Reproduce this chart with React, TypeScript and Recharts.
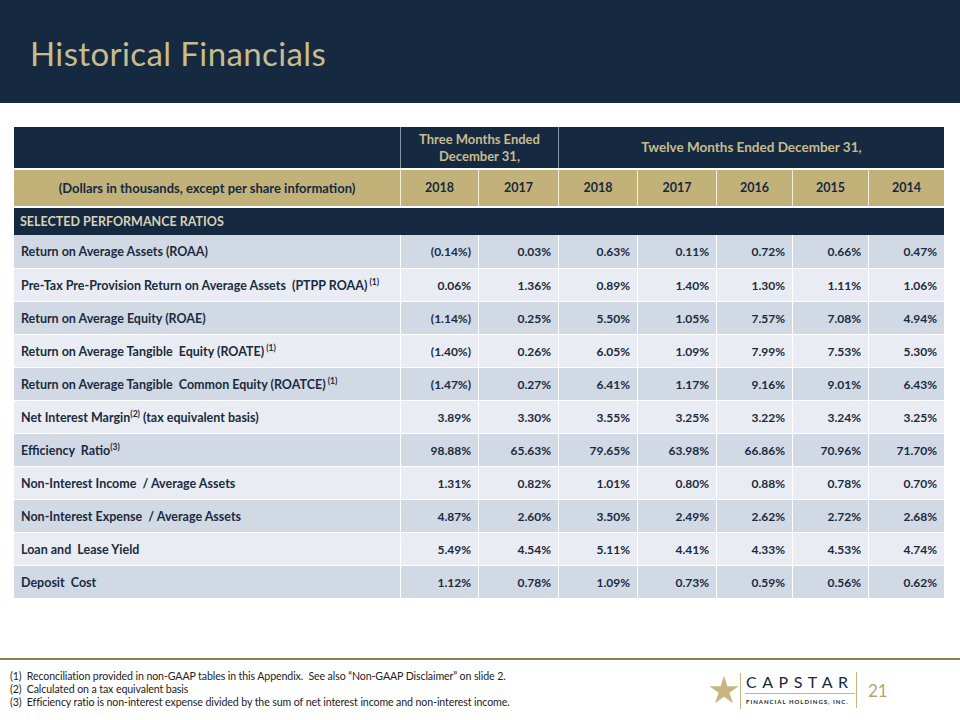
import React from "react";
import { Surface, Symbols } from "recharts";

const rowLabels = [
  "Return on Average Assets (ROAA)",
  "Pre-Tax Pre-Provision Return on Average Assets  (PTPP ROAA)",
  "Return on Average Equity (ROAE)",
  "Return on Average Tangible  Equity (ROATE)",
  "Return on Average Tangible  Common Equity (ROATCE)",
  "Net Interest Margin",
  "Efficiency  Ratio",
  "Non-Interest Income  / Average Assets",
  "Non-Interest Expense  / Average Assets",
  "Loan and  Lease Yield",
  "Deposit  Cost",
];
// superscript note and text that follows it
const rowNotes = ["", " (1)", "", " (1)", " (1)", "(2)", "(3)", "", "", "", ""];
const rowSuffix = ["", "", "", "", "", " (tax equivalent basis)", "", "", "", "", ""];

const periodLabels = ["2018", "2017", "2018", "2017", "2016", "2015", "2014"];

const q4_2018 = [-0.14, 0.06, -1.14, -1.4, -1.47, 3.89, 98.88, 1.31, 4.87, 5.49, 1.12];
const q4_2017 = [0.03, 1.36, 0.25, 0.26, 0.27, 3.3, 65.63, 0.82, 2.6, 4.54, 0.78];
const fy2018 = [0.63, 0.89, 5.5, 6.05, 6.41, 3.55, 79.65, 1.01, 3.5, 5.11, 1.09];
const fy2017 = [0.11, 1.4, 1.05, 1.09, 1.17, 3.25, 63.98, 0.8, 2.49, 4.41, 0.73];
const fy2016 = [0.72, 1.3, 7.57, 7.99, 9.16, 3.22, 66.86, 0.88, 2.62, 4.33, 0.59];
const fy2015 = [0.66, 1.11, 7.08, 7.53, 9.01, 3.24, 70.96, 0.78, 2.72, 4.53, 0.56];
const fy2014 = [0.47, 1.06, 4.94, 5.3, 6.43, 3.25, 71.7, 0.7, 2.68, 4.74, 0.62];

const footnotes = [
  "Reconciliation provided in non-GAAP tables in this Appendix.  See also \u201cNon-GAAP Disclaimer\u201d on slide 2.",
  "Calculated on a tax equivalent basis",
  "Efficiency ratio is non-interest expense divided by the sum of net interest income and non-interest income.",
];

const columns = [q4_2018, q4_2017, fy2018, fy2017, fy2016, fy2015, fy2014];

const NAVY = "#152a40";
const GOLD = "#c2b27a";
const TITLE_GOLD = "#c9bc8c";
const ROW_A = "#d1d9e5";
const ROW_B = "#e9edf3";
const TEXT = "#1b2b3e";
const FONT = "Lato, 'Open Sans', sans-serif";

const edges = [14, 400, 478, 558, 637, 716, 792, 868, 944];
const tableTop = 127;
const head1H = 41;
const head2H = 40;
const sectH = 27;
const rowH = 33;

const fmt = (v: number) => (v < 0 ? `(${Math.abs(v).toFixed(2)}%)` : `${v.toFixed(2)}%`);

const abs = (x: number, y: number, w: number, h: number, extra: React.CSSProperties = {}): React.CSSProperties => ({
  position: "absolute",
  left: x,
  top: y,
  width: w,
  height: h,
  boxSizing: "border-box",
  ...extra,
});

export default function App() {
  const head2Top = tableTop + head1H;
  const sectTop = head2Top + head2H;
  const bodyTop = sectTop + sectH;

  return (
    <div style={{ position: "absolute", left: 0, top: 0, width: 960, height: 720, background: "#ffffff", fontFamily: FONT, overflow: "hidden" }}>
      {/* title band */}
      <div style={abs(0, 0, 960, 103, { background: NAVY })} />
      <div style={abs(30, 28, 600, 50, { color: TITLE_GOLD, fontSize: 33, lineHeight: "50px", letterSpacing: 0.4 })}>
        Historical Financials
      </div>

      {/* header row 1 */}
      <div style={abs(edges[0], tableTop, edges[8] - edges[0], head1H, { background: NAVY })} />
      <div
        style={abs(edges[1], tableTop, edges[3] - edges[1], head1H, {
          color: TITLE_GOLD,
          fontWeight: 700,
          fontSize: 13,
          lineHeight: "17px",
          textAlign: "center",
          paddingTop: 4,
          borderLeft: "1px solid #8795a6",
        })}
      >
        Three Months Ended
        <br />
        December 31,
      </div>
      <div
        style={abs(edges[3], tableTop, edges[8] - edges[3], head1H, {
          color: TITLE_GOLD,
          fontWeight: 700,
          fontSize: 13.5,
          lineHeight: `${head1H}px`,
          textAlign: "center",
          borderLeft: "1px solid #8795a6",
        })}
      >
        Twelve Months Ended December 31,
      </div>

      {/* header row 2 */}
      <div
        style={abs(edges[0], head2Top, edges[1] - edges[0], head2H, {
          background: GOLD,
          color: NAVY,
          fontWeight: 700,
          fontSize: 13,
          lineHeight: `${head2H - 4}px`,
          textAlign: "center",
          borderTop: "2px solid #ffffff",
          borderBottom: "2px solid #ffffff",
        })}
      >
        (Dollars in thousands, except per share information)
      </div>
      {periodLabels.map((p, i) => (
        <div
          key={"p" + i}
          style={abs(edges[i + 1], head2Top, edges[i + 2] - edges[i + 1], head2H, {
            background: GOLD,
            color: NAVY,
            fontWeight: 700,
            fontSize: 12.5,
            lineHeight: `${head2H - 4}px`,
            textAlign: "center",
            borderTop: "2px solid #ffffff",
            borderBottom: "2px solid #ffffff",
            borderLeft: "1px solid #f3eedd",
          })}
        >
          {p}
        </div>
      ))}

      {/* section row */}
      <div
        style={abs(edges[0], sectTop, edges[8] - edges[0], sectH, {
          background: NAVY,
          color: "#d9d1b5",
          fontWeight: 700,
          fontSize: 12.5,
          lineHeight: `${sectH}px`,
          paddingLeft: 6,
        })}
      >
        SELECTED PERFORMANCE RATIOS
      </div>

      {/* data rows */}
      {rowLabels.map((label, r) => {
        const top = bodyTop + r * rowH;
        const bg = r % 2 === 0 ? ROW_A : ROW_B;
        return (
          <React.Fragment key={"r" + r}>
            <div
              style={abs(edges[0], top, edges[1] - edges[0], rowH, {
                background: bg,
                color: TEXT,
                fontWeight: 700,
                fontSize: 12.5,
                lineHeight: `${rowH}px`,
                paddingLeft: 7,
                whiteSpace: "pre",
                borderTop: r > 0 ? "1px solid #ffffff" : "none",
              })}
            >
              {label}
              {rowNotes[r] && <sup style={{ fontSize: 8.5, lineHeight: 0 }}>{rowNotes[r]}</sup>}
              {rowSuffix[r]}
            </div>
            {columns.map((col, c) => (
              <div
                key={"c" + c}
                style={abs(edges[c + 1], top, edges[c + 2] - edges[c + 1], rowH, {
                  background: bg,
                  color: TEXT,
                  fontWeight: 700,
                  fontSize: 12,
                  lineHeight: `${rowH}px`,
                  textAlign: "right",
                  paddingRight: 7,
                  borderLeft: "1px solid #ffffff",
                  borderTop: r > 0 ? "1px solid #ffffff" : "none",
                })}
              >
                {fmt(col[r])}
              </div>
            ))}
          </React.Fragment>
        );
      })}

      {/* footer */}
      <div style={abs(0, 658, 960, 2, { background: "#8d7d52" })} />
      {footnotes.map((f, i) => (
        <div
          key={"f" + i}
          style={abs(10, 670 + i * 13, 600, 13, { fontSize: 10.6, lineHeight: "13px", color: "#222", whiteSpace: "pre", letterSpacing: -0.1 })}
        >
          {`(${i + 1})  ${f}`}
        </div>
      ))}

      {/* logo */}
      <div style={abs(709, 676, 30, 30)}>
        <Surface width={30} height={30} viewBox={{ x: 0, y: 0, width: 30, height: 30 }}>
          <Symbols cx={15} cy={15} type="star" size={260} fill="#c8b57f" />
        </Surface>
      </div>
      <div style={abs(740, 673, 1, 36, { background: "#c8b57f" })} />
      <div style={abs(746, 672, 120, 20, { color: NAVY, fontSize: 16, fontWeight: 400, letterSpacing: 5.5, lineHeight: "20px" })}>
        CAPSTAR
      </div>
      <div style={abs(745, 693, 110, 1, { background: "#c8b57f" })} />
      <div style={abs(746, 697, 120, 10, { color: NAVY, fontSize: 6, fontWeight: 700, letterSpacing: 1, lineHeight: "10px" })}>
        FINANCIAL HOLDINGS, INC.
      </div>
      <div style={abs(856, 672, 1, 36, { background: "#c8b57f" })} />
      <div style={abs(868, 680, 30, 22, { color: "#b5a470", fontSize: 17, lineHeight: "22px" })}>21</div>
    </div>
  );
}
